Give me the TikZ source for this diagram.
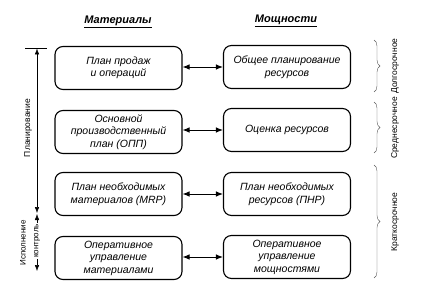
\documentclass[tikz,border=0pt]{standalone}
\usepackage{fontspec}
\setmainfont{Liberation Sans}
\usetikzlibrary{arrows.meta,decorations.pathreplacing}

\begin{document}
\begin{tikzpicture}[
    x=1pt, y=-1pt,
    box/.style={draw, line width=1.1pt, rounded corners=8pt, minimum width=127pt,
                minimum height=43pt, align=center, inner sep=2pt,
                font=\fontsize{10.5}{12.5}\selectfont\itshape},
    head/.style={font=\fontsize{11}{13}\selectfont\bfseries\itshape},
    arr/.style={{Latex[length=7pt,width=5.5pt]}-{Latex[length=7pt,width=5.5pt]}, line width=0.9pt},
    axis/.style={line width=0.5pt},
    tips/.style={{Latex[length=6pt,width=4.5pt]}-{Latex[length=6pt,width=4.5pt]}},
    brc/.style={decorate, decoration={brace, amplitude=6pt}, line width=0.4pt, gray!70!black},
    lbl/.style={rotate=90, font=\fontsize{8.5}{10}\selectfont}
]
    \useasboundingbox (0,0) rectangle (428,299);

    % column headings
    \node[head] (hmat) at (118,22) {\underline{Материалы}};
    \node[head] (hcap) at (286,21) {\underline{Мощности}};

    % left column: materials
    \node[box] (m1) at (118.5,68)  {План продаж\\и операций};
    \node[box] (m2) at (118.5,132) {Основной\\производственный\\план (ОПП)};
    \node[box] (m3) at (118.5,194) {План необходимых\\материалов (MRP)};
    \node[box] (m4) at (118.5,258) {Оперативное\\управление\\материалами};

    % right column: capacities
    \node[box] (c1) at (287,67)  {Общее планирование\\ресурсов};
    \node[box] (c2) at (287,130) {Оценка ресурсов};
    \node[box] (c3) at (287,194) {План необходимых\\ресурсов (ПНР)};
    \node[box] (c4) at (287,257) {Оперативное\\управление\\мощностями};

    \foreach \i in {1,...,4}
        \draw[arr] (m\i.east |- c\i.west) -- (c\i.west);

    % left axis: planning / execution
    \coordinate (tickl) at (25,48);
    \coordinate (tickr) at (47,48);
    \coordinate (plantop) at (37,48.5);
    \coordinate (planend) at (37,213);
    \coordinate (exectop) at (37,214);
    \coordinate (execend) at (37,271);
    \draw[axis] (tickl) -- (tickr);
    \draw[axis, tips] (plantop) -- (planend);
    \draw[axis, tips] (exectop) -- (execend);
    \node[lbl] (lplan) at (28,128) {Планирование};
    \node[lbl, fill=white, inner sep=1pt, font=\fontsize{8}{9}\selectfont] (lctrl) at (37,241) {контроль};
    \node[lbl, font=\fontsize{8}{9}\selectfont] (lexec) at (23,243) {Исполнение};

    % right braces: horizons
    \coordinate (b1a) at (374,40);  \coordinate (b1b) at (374,92);
    \coordinate (b2a) at (374,102); \coordinate (b2b) at (374,153);
    \coordinate (b3a) at (374,165); \coordinate (b3b) at (374,278);
    \draw[brc] (b1a) -- (b1b);
    \draw[brc] (b2a) -- (b2b);
    \draw[brc] (b3a) -- (b3b);
    \node[lbl] (llong) at (395,66)  {Долгосрочное};
    \node[lbl] (lmid)  at (395,128) {Среднесрочное};
    \node[lbl] (lshort) at (395,222) {Краткосрочное};
\end{tikzpicture}
\end{document}
